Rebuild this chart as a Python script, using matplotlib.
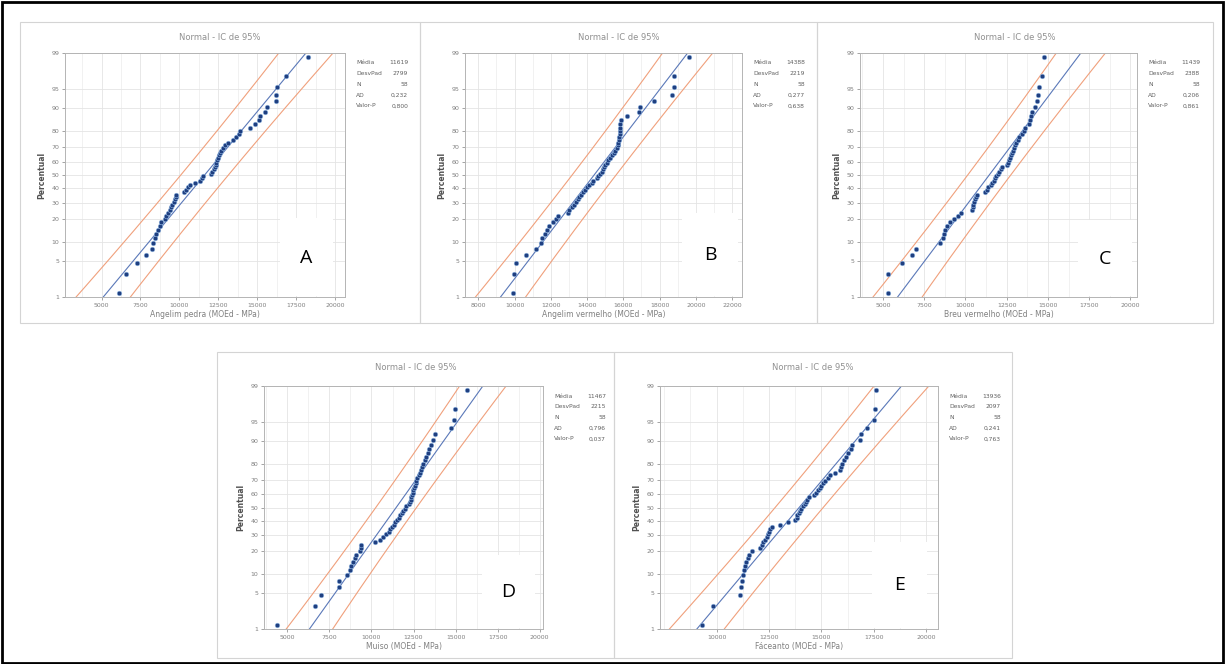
import numpy as np
import matplotlib.pyplot as plt
from matplotlib.patches import Rectangle
from statistics import NormalDist

# MOEd values (MPa), 58 specimens per species
angelim_pedra = [6133, 6560, 7287, 7885, 8270, 8310, 8420, 8525, 8630, 8740,
                 8850, 9060, 9170, 9270, 9380, 9490, 9550, 9640, 9700, 9765,
                 9810, 10280, 10410, 10560, 10660, 10980, 11300, 11480, 11520, 12050,
                 12120, 12200, 12270, 12330, 12370, 12420, 12480, 12520, 12590, 12690,
                 12800, 12950, 13120, 13440, 13650, 13830, 13910, 14510, 14830, 15110,
                 15190, 15530, 15620, 16180, 16220, 16260, 16820, 18270]
angelim_vermelho = [9900, 9970, 10060, 10630, 11190, 11440, 11500, 11680, 11780, 11920,
                    12140, 12290, 12370, 12970, 13030, 13160, 13290, 13400, 13490, 13580,
                    13670, 13800, 13890, 13990, 14130, 14260, 14350, 14540, 14630, 14720,
                    14820, 14870, 14910, 15000, 15090, 15180, 15280, 15370, 15460, 15550,
                    15640, 15680, 15720, 15740, 15760, 15790, 15790, 15830, 15830, 15870,
                    16200, 16840, 16930, 17670, 18680, 18810, 18810, 19600]
breu_vermelho = [5283, 5324, 6133, 6740, 7004, 8460, 8660, 8725, 8765, 8866,
                 9070, 9330, 9575, 9735, 10385, 10425, 10465, 10525, 10585, 10645,
                 10710, 11195, 11295, 11395, 11520, 11600, 11700, 11800, 11880, 11960,
                 12040, 12125, 12205, 12530, 12570, 12610, 12670, 12730, 12810, 12895,
                 12955, 13015, 13075, 13155, 13260, 13420, 13520, 13580, 13825, 13925,
                 13990, 14030, 14230, 14390, 14330, 14470, 14635, 14735]
muiso = [4406, 6624, 6981, 8050, 8090, 8566, 8704, 8804, 8903, 9002,
         9100, 9300, 9358, 9398, 10230, 10527, 10685, 10884, 11022, 11121,
         11220, 11339, 11418, 11537, 11617, 11696, 11815, 11894, 11973, 12072,
         12211, 12270, 12330, 12370, 12409, 12449, 12488, 12528, 12567, 12627,
         12666, 12726, 12805, 12865, 12924, 13003, 13083, 13162, 13241, 13360,
         13439, 13518, 13657, 13796, 14707, 14905, 14984, 15678]
faceanto = [9286, 9810, 11111, 11158, 11190, 11270, 11301, 11349, 11413, 11476,
            11540, 11666, 12079, 12143, 12222, 12301, 12381, 12428, 12492, 12539,
            12618, 13015, 13380, 13730, 13809, 13856, 13920, 13968, 14047, 14126,
            14206, 14285, 14333, 14396, 14650, 14729, 14840, 14920, 14999, 15078,
            15158, 15317, 15396, 15634, 15872, 15920, 15983, 16078, 16189, 16269,
            16396, 16459, 16824, 16904, 17173, 17507, 17570, 17586]

series = [angelim_pedra, angelim_vermelho, breu_vermelho, muiso, faceanto]
letters = ["A", "B", "C", "D", "E"]
xlabels = ["Angelim pedra (MOEd - MPa)", "Angelim vermelho (MOEd - MPa)",
           "Breu vermelho (MOEd - MPa)", "Muiso (MOEd - MPa)", "Fáceanto (MOEd - MPa)"]
xticks = [[5000, 7500, 10000, 12500, 15000, 17500, 20000],
          [8000, 10000, 12000, 14000, 16000, 18000, 20000, 22000],
          [5000, 7500, 10000, 12500, 15000, 17500, 20000],
          [5000, 7500, 10000, 12500, 15000, 17500, 20000],
          [10000, 12500, 15000, 17500, 20000]]
ad_vals = ["0,232", "0,277", "0,206", "0,796", "0,241"]
p_vals = ["0,800", "0,638", "0,861", "0,037", "0,763"]
pct_ticks = [1, 5, 10, 20, 30, 40, 50, 60, 70, 80, 90, 95, 99]

# layout in pixels (x0, y0, x1, y1)
W, H = 1225, 664
frames = [(20, 22, 420, 323), (420, 22, 817, 323), (817, 22, 1213, 323),
          (217, 352, 614, 658), (614, 352, 1012, 658)]
axboxes = [(65, 53, 345, 297), (465, 53, 742, 297), (860, 53, 1137, 297),
           (264, 386, 543, 629), (660, 386, 938, 629)]
xlims = [(2650, 20640), (7263, 22550), (3603, 20400), (3613, 20194), (7302, 20554)]
letter_boxes = [(280, 218, 333, 297), (682, 213, 738, 297), (1078, 220, 1132, 297),
                (482, 555, 535, 629), (872, 542, 927, 629)]


def frac(x0, y0, x1, y1):
    return [x0 / W, 1 - y1 / H, (x1 - x0) / W, (y1 - y0) / H]


def fx(x):
    return x / W


def fy(y):
    return 1 - y / H


nd = NormalDist()
grey = "#808080"

fig = plt.figure(figsize=(W / 100, H / 100), dpi=100)
fig.patch.set_facecolor("white")

for k in range(5):
    vals = np.sort(np.array(series[k], dtype=float))
    n = len(vals)
    p = (np.arange(1, n + 1) - 0.3) / (n + 0.4)
    z = np.array([nd.inv_cdf(q) for q in p])
    mu = vals.mean()
    sd = vals.std(ddof=1)

    fx0, fy0, fx1, fy1 = frames[k]
    fig.add_artist(Rectangle((fx(fx0), fy(fy1)), (fx1 - fx0) / W, (fy1 - fy0) / H,
                             transform=fig.transFigure, fill=False,
                             edgecolor="#d4d4d4", lw=0.8))

    ax = fig.add_axes(frac(*axboxes[k]))
    ax.set_axisbelow(True)

    # fitted line and 95% band (bands in the source are almost parallel)
    zz = np.linspace(-2.7, 2.7, 300)
    fit = mu + zz * sd
    half = 1.96 * sd * np.sqrt((4.5 + zz ** 2 / 4) / n)
    ax.plot(fit - half, zz, color="#f0a07c", lw=0.8)
    ax.plot(fit + half, zz, color="#f0a07c", lw=0.8)
    ax.plot(fit, zz, color="#5a78b8", lw=0.8)
    ax.scatter(vals, z, s=11, color="#1f3f80", edgecolors="#8fb4e0",
               linewidths=0.4, zorder=3)

    ax.set_xticks(xticks[k])
    ax.set_xticklabels([str(t) for t in xticks[k]])
    step = xticks[k][1] - xticks[k][0]
    ax.set_xticks(np.arange(xticks[k][0] - step, xticks[k][-1] + step, step / 2), minor=True)
    ax.set_yticks([nd.inv_cdf(t / 100) for t in pct_ticks])
    ax.set_yticklabels([str(t) for t in pct_ticks])
    ax.set_xlim(*xlims[k])
    ax.set_ylim(nd.inv_cdf(0.01), nd.inv_cdf(0.99))
    ax.grid(True, which="major", color="#e4e4e4", lw=0.6)
    ax.grid(True, which="minor", axis="x", color="#ececec", lw=0.5)
    ax.tick_params(which="both", labelsize=4.5, colors=grey, length=2, width=0.5, pad=2)
    ax.tick_params(which="minor", length=0)
    for s in ax.spines.values():
        s.set_color("#b4b4b4")
        s.set_linewidth(0.7)
    ax.set_xlabel(xlabels[k], fontsize=5.5, color=grey, labelpad=2)
    ax.set_ylabel("Percentual", fontsize=5.5, color="#505050", fontweight="bold", labelpad=4)

    # title
    fig.text(fx((fx0 + fx1) / 2), fy(fy0 + 15), "Normal - IC de 95%",
             fontsize=6, color="#909090", ha="center", va="center")

    # stats table
    ax0, ay0, ax1, ay1 = axboxes[k]
    rows = [("Média", f"{mu:.0f}"), ("DesvPad", f"{sd:.0f}"), ("N", str(n)),
            ("AD", ad_vals[k]), ("Valor-P", p_vals[k])]
    for r, (lab, val) in enumerate(rows):
        yy = fy(ay0 + 10 + r * 10.7)
        fig.text(fx(ax1 + 11), yy, lab, fontsize=4.3, color="#606060", ha="left", va="center")
        fig.text(fx(ax1 + 63), yy, val, fontsize=4.3, color="#606060", ha="right", va="center")

    # white box with the panel letter
    bx0, by0, bx1, by1 = letter_boxes[k]
    fig.add_artist(Rectangle((fx(bx0), fy(by1 - 1)), (bx1 - bx0) / W, (by1 - 1 - by0) / H,
                             transform=fig.transFigure, facecolor="white",
                             edgecolor="none", zorder=5))
    fig.text(fx((bx0 + bx1) / 2), fy((by0 + by1) / 2), letters[k], fontsize=14,
             family="Open Sans", color="black", ha="center", va="center", zorder=6)

# black outer border
fig.add_artist(Rectangle((1.5 / W, 1.5 / H), 1 - 3.5 / W, 1 - 3.5 / H,
                         transform=fig.transFigure, fill=False, edgecolor="black", lw=2))

fig.savefig("out.png", dpi=100)
